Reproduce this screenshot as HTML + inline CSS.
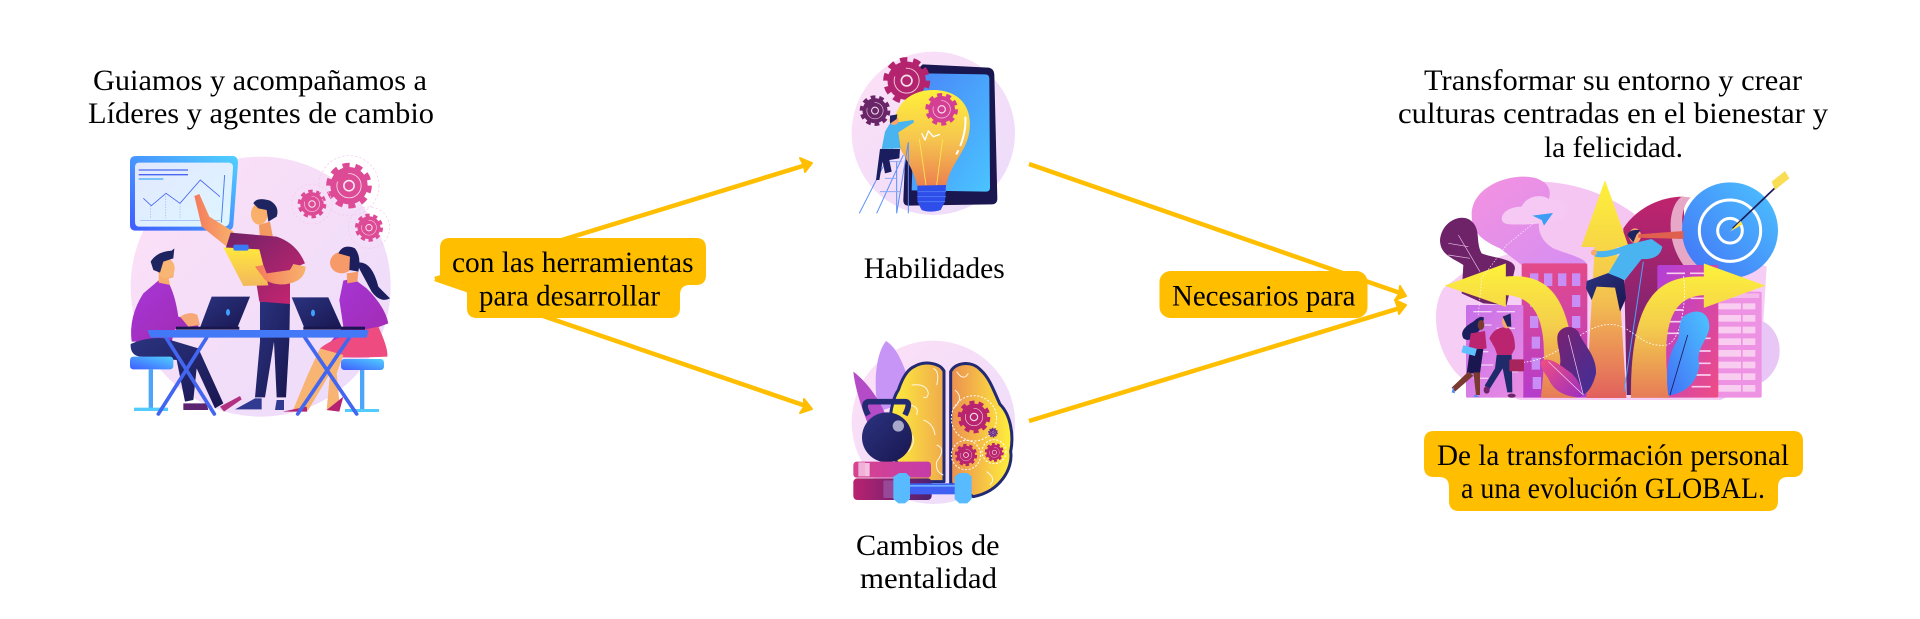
<!DOCTYPE html>
<html lang="es"><head><meta charset="utf-8"><title>Diagrama</title>
<style>
html,body{margin:0;padding:0;background:#fff;width:1920px;height:619px;overflow:hidden}
svg{display:block}
text{font-family:"Liberation Serif",serif;font-size:30px;fill:#000;}
</style></head><body>
<svg width="1920" height="619" viewBox="0 0 1920 619" xmlns="http://www.w3.org/2000/svg">
<defs>
<linearGradient id="bgp" x1="0" y1="0" x2="1" y2="1"><stop offset="0" stop-color="#fde0f6"/><stop offset="1" stop-color="#ebdcfb"/></linearGradient>
<linearGradient id="blueH" x1="0" y1="1" x2="1" y2="0"><stop offset="0" stop-color="#3f5cff"/><stop offset="1" stop-color="#50d0ff"/></linearGradient>
<linearGradient id="blueV" x1="0" y1="1" x2="1" y2="0"><stop offset="0" stop-color="#4270f6"/><stop offset="1" stop-color="#4cc4ff"/></linearGradient>
<linearGradient id="screen" x1="0" y1="0" x2="1" y2="1"><stop offset="0" stop-color="#e2e8ff"/><stop offset="1" stop-color="#def6ff"/></linearGradient>
<linearGradient id="tab" x1="0" y1="0" x2="1" y2="1"><stop offset="0" stop-color="#4a84f8"/><stop offset="1" stop-color="#4ac4ff"/></linearGradient>
<linearGradient id="shirt" x1="0" y1="0" x2="1" y2="1"><stop offset="0" stop-color="#6f2268"/><stop offset="1" stop-color="#cc2570"/></linearGradient>
<linearGradient id="purp" x1="0" y1="0" x2="1" y2="1"><stop offset="0" stop-color="#a636d8"/><stop offset="1" stop-color="#a22bb0"/></linearGradient>
<linearGradient id="navy" x1="0" y1="0" x2="1" y2="1"><stop offset="0" stop-color="#2b3480"/><stop offset="1" stop-color="#191650"/></linearGradient>
<linearGradient id="clip" x1="0" y1="0" x2="0" y2="1"><stop offset="0" stop-color="#ffe83c"/><stop offset="1" stop-color="#f3b85c"/></linearGradient>
<linearGradient id="skin" x1="0" y1="0" x2="1" y2="0"><stop offset="0" stop-color="#f47a5c"/><stop offset="1" stop-color="#f8b26c"/></linearGradient>
<linearGradient id="bulb" x1="0" y1="0" x2="0" y2="1"><stop offset="0" stop-color="#fff03a"/><stop offset=".5" stop-color="#f6c74e"/><stop offset="1" stop-color="#ec7f50"/></linearGradient>
<linearGradient id="brL" x1="0" y1="0" x2="1" y2="0"><stop offset="0" stop-color="#fff03c"/><stop offset="1" stop-color="#efaa4c"/></linearGradient>
<linearGradient id="brR" x1="1" y1="0" x2="0" y2="0"><stop offset="0" stop-color="#fff03c"/><stop offset="1" stop-color="#ec8f50"/></linearGradient>
<linearGradient id="bk1" x1="0" y1="0" x2="1" y2="0"><stop offset="0" stop-color="#d6448e"/><stop offset="1" stop-color="#c53ba8"/></linearGradient>
<linearGradient id="bk2" x1="0" y1="0" x2="1" y2="0"><stop offset="0" stop-color="#b92270"/><stop offset="1" stop-color="#4c2170"/></linearGradient>
<linearGradient id="arrow" x1="0" y1="0" x2="0" y2="1"><stop offset="0" stop-color="#fdf13a"/><stop offset=".55" stop-color="#f3c050"/><stop offset="1" stop-color="#e2605e"/></linearGradient>
<linearGradient id="arrowL" gradientUnits="userSpaceOnUse" x1="0" y1="300" x2="0" y2="700"><stop offset="0" stop-color="#fdf13a"/><stop offset=".45" stop-color="#f4cf4c"/><stop offset="1" stop-color="#e67a58"/></linearGradient>
<linearGradient id="bl1" x1="0" y1="0" x2="0" y2="1"><stop offset="0" stop-color="#e44a88"/><stop offset="1" stop-color="#b53ccc"/></linearGradient>
<linearGradient id="bl2" x1="0" y1="0" x2="1" y2="1"><stop offset="0" stop-color="#b23fd8"/><stop offset="1" stop-color="#ef4c84"/></linearGradient>
<linearGradient id="bl3" x1="0" y1="0" x2="1" y2="1"><stop offset="0" stop-color="#c66ee8"/><stop offset="1" stop-color="#ea8ee4"/></linearGradient>
<linearGradient id="top" x1="0" y1="0" x2="1" y2="1"><stop offset="0" stop-color="#f492e0"/><stop offset="1" stop-color="#d58ef2"/></linearGradient>
<linearGradient id="dome" x1="0" y1="0" x2="0" y2="1"><stop offset="0" stop-color="#c0246e"/><stop offset="1" stop-color="#5c2470"/></linearGradient>
<linearGradient id="lf1" x1="0" y1="0" x2="1" y2="1"><stop offset="0" stop-color="#7a2270"/><stop offset="1" stop-color="#3f2f9a"/></linearGradient>
<linearGradient id="lf2" x1="0" y1="0" x2="1" y2="1"><stop offset="0" stop-color="#f04f80"/><stop offset="1" stop-color="#9d2ec0"/></linearGradient>
<g id="gear"><circle r="80" fill="currentColor"/><circle r="88" fill="none" stroke="currentColor" stroke-width="20" pathLength="20" stroke-dasharray="1.1 .9"/><circle r="52" fill="none" stroke="#fff" stroke-opacity=".75" stroke-width="4" stroke-dasharray="180 60"/><circle r="22" fill="none" stroke="#fff" stroke-opacity=".85" stroke-width="7"/></g>
</defs>

<!-- connectors -->
<g fill="none" stroke="#ffbe00" stroke-width="4.500">
<line x1="435" y1="279" x2="806" y2="165"/>
<line x1="435" y1="279" x2="806" y2="406"/>
<line x1="1029" y1="164" x2="1400" y2="293"/>
<line x1="1029" y1="421" x2="1400" y2="308"/>
</g>
<g fill="#ffbe00" stroke="#ffbe00" stroke-width="2" stroke-linejoin="round">
<polygon points="812,163 800,158 804,166 805,172"/>
<polygon points="812,409 804,399 804,407 800,413"/>
<polygon points="1406,296 1400,286 1399,294 1395,300"/>
<polygon points="1406,305 1395,300 1398,308 1399,314"/>
</g>

<!-- callouts -->
<g fill="#ffbe00">
<path d="M450,238H696Q706,238 706,248V275Q706,285 696,285H690Q680,285 680,295V308Q680,318 670,318H477Q467,318 467,308V295Q467,285 457,285H450Q440,285 440,275V248Q440,238 450,238Z"/>
<rect x="1159.5" y="271" width="208" height="47" rx="11"/>
<path d="M1434,431H1793Q1803,431 1803,441V467Q1803,477 1793,477H1788Q1778,477 1778,487V501Q1778,511 1768,511H1459Q1449,511 1449,501V487Q1449,477 1439,477H1434Q1424,477 1424,467V441Q1424,431 1434,431Z"/>
</g>

<!-- labels -->
<text x="93" y="90" textLength="334" lengthAdjust="spacingAndGlyphs">Guiamos y acompañamos a</text>
<text x="88" y="123" textLength="346" lengthAdjust="spacingAndGlyphs">Líderes y agentes de cambio</text>
<text x="452" y="272" textLength="241.5" lengthAdjust="spacingAndGlyphs">con las herramientas</text>
<text x="479" y="305.500" textLength="181" lengthAdjust="spacingAndGlyphs">para desarrollar</text>
<text x="863.7" y="278" textLength="141" lengthAdjust="spacingAndGlyphs">Habilidades</text>
<text x="856" y="555" textLength="143.500" lengthAdjust="spacingAndGlyphs">Cambios de</text>
<text x="860" y="588" textLength="137" lengthAdjust="spacingAndGlyphs">mentalidad</text>
<text x="1172" y="305.500" textLength="183.500" lengthAdjust="spacingAndGlyphs">Necesarios para</text>
<text x="1424" y="90" textLength="378" lengthAdjust="spacingAndGlyphs">Transformar su entorno y crear</text>
<text x="1398" y="123" textLength="430" lengthAdjust="spacingAndGlyphs">culturas centradas en el bienestar y</text>
<text x="1544" y="157" textLength="139" lengthAdjust="spacingAndGlyphs">la felicidad.</text>
<text x="1437" y="465" textLength="352" lengthAdjust="spacingAndGlyphs">De la transformación personal</text>
<text x="1461" y="498" textLength="304" lengthAdjust="spacingAndGlyphs">a una evolución GLOBAL.</text>

<!-- Illustration A : team -->
<g transform="translate(60,40) scale(.33333)">
<circle cx="602" cy="740" r="390" fill="url(#bgp)"/>
<path d="M228,348H520Q534,350 534,368L520,555Q518,572 500,572H228Q210,572 210,555V365Q210,348 228,348Z" fill="url(#blueH)"/>
<path d="M238,368H505Q520,368 519,384L508,545Q507,560 490,560H238Q225,560 225,546V382Q225,368 238,368Z" fill="url(#screen)"/>
<g stroke="#4a66f0" fill="none"><path d="M236,390H384M236,404H384" stroke-width="4"/><path d="M236,417H310" stroke-width="4" stroke="#40a8f5"/><path d="M250,475L274,497 318,460 360,490 421,420 480,470" stroke-width="2.500"/><path d="M240,541H480" stroke-width="2" stroke="#88a8f8"/><path d="M484,548L494,405" stroke-width="3" stroke="#4a80f5"/><path d="M272,497V535M316,460V535M360,490V535" stroke-width="1.500" stroke-dasharray="4 4" stroke="#8aa0f0"/></g>
<g color="#dd4a96">
<use href="#gear" transform="translate(867,437) scale(.7)"/>
<use href="#gear" transform="translate(756,492) scale(.44)"/>
<use href="#gear" transform="translate(927,563) scale(.43)"/>
</g>
<g fill="none" stroke="#f5c8ea" stroke-width="2" stroke-dasharray="7 6"><circle cx="867" cy="437" r="90"/><circle cx="756" cy="492" r="60"/><circle cx="927" cy="563" r="62"/></g>
<!-- left man -->
<path d="M295,722L322,722Q345,760 355,830L415,848 415,868 345,868 335,905 215,905Q205,830 250,760Z" fill="url(#purp)"/>
<path d="M360,830Q390,812 412,825L420,855 385,860Z" fill="#f6a878"/>
<path d="M296,690L342,695 340,712 326,716 330,735 296,728Z" fill="#f7ac6c"/>
<ellipse cx="318" cy="685" rx="26" ry="30" fill="#f9b574"/>
<path d="M272,665Q290,635 335,632L343,625 340,655 310,665 300,698 280,690Z" fill="#1e2460"/>
<path d="M212,912Q260,890 315,895L415,925 490,1090 465,1105 410,985 400,1080 375,1085 350,960 240,950Q210,945 212,912Z" fill="url(#navy)"/>
<path d="M370,1090H440L445,1110H370Z" fill="#5c2470"/><path d="M480,1100L540,1068 545,1078 492,1115Z" fill="#b23080"/>
<rect x="210" y="950" width="130" height="38" rx="10" fill="url(#blueH)"/><rect x="266" y="988" width="13" height="118" fill="#4da5fa"/><rect x="222" y="1103" width="102" height="10" fill="#52ccff"/>
<!-- woman -->
<path d="M890,668Q935,660 955,740L990,775Q960,790 935,755L900,690Z" fill="#1c1e5e"/>
<path d="M850,722L880,715 920,745Q975,800 985,850L945,865 955,910 800,920 850,860 838,780Z" fill="url(#purp)"/>
<path d="M780,925Q830,885 955,860 985,925 982,950 860,955 800,950Z" fill="#ee4b80"/>
<path d="M860,700L895,695 892,725 862,730Z" fill="#f69c6a"/>
<ellipse cx="845" cy="668" rx="35" ry="32" fill="#f79a69"/>
<path d="M835,640Q850,610 885,625 905,650 895,695L868,690 870,650Z" fill="#1c1e5e"/>
<path d="M780,925L850,945 830,1000 838,1085 820,1112 800,1110 810,1000 745,1110 700,1108 745,1000Z" fill="#f7b473"/>
<path d="M668,1115L740,1100 742,1115ZM800,1110L850,1070 838,1115Z" fill="#b52370"/>
<rect x="843" y="957" width="129" height="33" rx="10" fill="url(#blueH)"/><rect x="900" y="990" width="13" height="118" fill="#4da5fa"/><rect x="855" y="1107" width="102" height="9" fill="#52ccff"/>
<!-- center man -->
<path d="M600,785H690L688,900 678,1072 650,1072 642,905 615,1072 585,1072 600,905Z" fill="url(#navy)"/>
<path d="M585,1075H605V1108H525ZM650,1080H672V1110H645Z" fill="#2f3a90"/>
<path d="M597,555L630,545 640,597 600,600Z" fill="#f29a62"/>
<path d="M403,468L418,462 448,530 522,576 500,620 425,560Z" fill="url(#skin)"/>
<path d="M512,578L650,590Q710,610 735,670L690,688 690,792 598,785 590,735 498,622Z" fill="url(#shirt)"/>
<ellipse cx="598" cy="522" rx="25" ry="32" fill="#f9b06a"/>
<path d="M580,490Q590,470 630,482 660,500 650,530L625,545 620,510 595,505Z" fill="#1e2460"/>
<path d="M490,622L598,628 625,736 550,738Z" fill="url(#clip)"/>
<rect x="520" y="614" width="46" height="18" rx="6" fill="#3a7af5"/>
<path d="M585,680L610,675 620,700 690,690 700,672 737,680Q735,720 690,730 650,740 615,720Z" fill="url(#skin)"/>
<!-- laptops / table -->
<path d="M455,770H570L530,868H418Z" fill="url(#navy)"/><path d="M695,772H805L848,868H735Z" fill="url(#navy)"/>
<ellipse cx="504" cy="817" rx="6" ry="10" fill="#3ea0ff"/><ellipse cx="759" cy="819" rx="6" ry="10" fill="#3ea0ff"/>
<rect x="348" y="860" width="190" height="9" fill="#191650"/><rect x="730" y="860" width="185" height="9" fill="#191650"/>
<g stroke="#4266ef" stroke-width="11" stroke-linecap="round"><line x1="318" y1="893" x2="463" y2="1122"/><line x1="440" y1="893" x2="295" y2="1122"/><line x1="735" y1="893" x2="890" y2="1122"/><line x1="868" y1="893" x2="713" y2="1122"/></g>
<path d="M262,870H926L920,893H272Z" fill="#4378f6"/>
</g>

<!-- Illustration B : bulb -->
<g transform="translate(840,45) scale(.33333)">
<ellipse cx="280" cy="265" rx="245" ry="245" fill="url(#bgp)"/>
<path d="M248,58L445,68Q462,70 463,90L472,460Q472,478 455,478L205,482Q190,482 190,465L205,100Z" fill="#191650"/>
<path d="M255,85L435,88Q448,88 448,100L450,428Q450,440 438,440L215,436 225,100Z" fill="url(#tab)"/>
<g color="#b4246e"><use href="#gear" transform="translate(200,107) scale(.72)"/></g>
<g color="#6a2468"><use href="#gear" transform="translate(105,197) scale(.47)"/></g>
<path d="M280,135C180,135 145,220 170,285C185,330 218,360 232,425L318,425C330,360 370,330 385,275C405,190 360,135 280,135Z" fill="url(#bulb)"/>
<g color="#d43f94"><use href="#gear" transform="translate(305,193) scale(.5)"/></g>
<g fill="none" stroke="#fff" stroke-width="4"><path d="M245,265L255,285 265,258 280,275 300,268" stroke-linejoin="round"/><path d="M376,215Q380,270 348,330" stroke-width="6" stroke-dasharray="90 14 14"/></g>
<path d="M238,282L258,420M308,282L290,420" stroke="#ffe94f" stroke-width="2.500" fill="none"/>
<path d="M232,422L318,420 315,470 302,495Q270,505 245,495L232,470Z" fill="#2f4de8"/>
<path d="M232,440H318M232,455H318M235,470H315" stroke="#4a78f5" stroke-width="3" fill="none"/>
<path d="M205,292L170,505M205,292V505M170,350V505M165,295L58,505M190,330L110,505" stroke="#5a8ff8" stroke-width="3" fill="none"/>
<path d="M120,440H180M135,400H170M150,350H185" stroke="#8aaaf8" stroke-width="3"/>
<path d="M150,235L220,225 222,232 175,262 182,310 125,312 135,260Z" fill="#49b4f0"/>
<ellipse cx="162" cy="226" rx="14" ry="14" fill="#f7a86a"/><path d="M150,212L172,208 170,222 150,236Z" fill="#1e2460"/>
<path d="M120,312L180,312 178,340 148,345 155,380 135,385 128,350 118,405 108,405Z" fill="#1a1d5e"/>
</g>

<!-- Illustration C : brain -->
<g transform="translate(840,335) scale(.33333)">
<ellipse cx="280" cy="262" rx="245" ry="245" fill="url(#bgp)"/>
<path d="M138,18C175,40 195,100 215,165L175,210 115,230C100,150 105,60 138,18Z" fill="#c795f6"/>
<path d="M40,110C80,140 115,190 135,235L85,270C65,220 45,160 40,110Z" fill="#b44cc8"/>
<path d="M312,108C300,85 255,75 222,95C200,105 185,135 175,165C150,200 130,320 180,400L210,440H312Z" fill="url(#brL)" stroke="#232a74" stroke-width="9" stroke-linejoin="round"/>
<path d="M332,110C345,82 395,75 422,105C450,130 462,170 480,208C512,240 522,300 512,350C520,400 480,470 400,485L332,445Z" fill="url(#brR)" stroke="#232a74" stroke-width="9" stroke-linejoin="round"/>
<g fill="none" stroke="#fff" stroke-opacity=".85" stroke-width="3"><path d="M215,150Q260,145 265,175 260,195 250,185M280,100Q300,110 290,150M200,210Q240,210 230,240M250,255Q280,265 285,300M290,330Q320,340 290,380 285,410 310,420M215,300Q230,320 205,350M350,110Q370,140 385,115M345,165Q375,190 340,220M440,410Q470,430 450,450"/></g>
<g fill="none" stroke="#fff" stroke-width="3" stroke-dasharray="6 5"><circle cx="402" cy="250" r="68"/><circle cx="378" cy="360" r="44"/><circle cx="462" cy="350" r="36"/></g>
<g color="#b9246e"><use href="#gear" transform="translate(402,246) scale(.5)"/><use href="#gear" transform="translate(378,360) scale(.34)"/><use href="#gear" transform="translate(463,352) scale(.29)"/></g>
<g color="#6b2a88"><use href="#gear" transform="translate(459,293) scale(.15)"/></g>
<path d="M85,240Q65,205 85,200H195Q215,200 195,240" fill="none" stroke="#222a72" stroke-width="17"/>
<ellipse cx="141" cy="307" rx="75" ry="75" fill="url(#navy)"/>
<ellipse cx="175" cy="273" rx="17" ry="17" fill="#a8a8c8"/>
<rect x="40" y="380" width="233" height="48" rx="10" fill="url(#bk1)"/>
<rect x="55" y="382" width="20" height="42" fill="#f0b0d8"/><rect x="75" y="384" width="14" height="40" fill="#f4bfe0"/>
<rect x="40" y="430" width="235" height="65" rx="12" fill="url(#bk2)"/>
<rect x="130" y="436" width="60" height="53" rx="5" fill="#984898"/>
<rect x="205" y="445" width="145" height="33" fill="#3f60f3"/><rect x="205" y="450" width="145" height="5" fill="#70b0ff"/>
<path d="M160,425L178,414H198L210,425V492L195,505H175L160,492Z" fill="#58baff"/>
<path d="M344,425L358,414H382L395,425V492L382,505H358L344,492Z" fill="#58baff"/>
</g>

<!-- Illustration D : goal -->
<g transform="translate(1420,165) scale(.33333)">
<path d="M640,150L1040,305 1030,470C1090,500 1100,600 1030,650L900,705H300L140,650C60,600 20,450 70,370L160,300Z" fill="#f6cdf4"/>
<path d="M1030,470C1090,500 1100,600 1030,650L900,705 900,470Z" fill="#e8c7f6"/>
<path d="M370,50C500,58 590,105 660,160L500,300 300,300 200,180Z" fill="#f6c6f2"/>
<path d="M155,150C155,60 280,20 350,40 400,60 395,90 375,130 345,170 350,220 400,250 450,270 500,280 500,300L305,300 240,250C170,220 155,190 155,150Z" fill="url(#top)"/>
<path d="M245,160C250,130 290,125 305,125 320,90 370,85 390,105 430,95 455,130 440,150 410,175 330,180 290,178 260,180 245,175 245,160Z" fill="#f5c9f3"/>
<path d="M337,152L399,144 372,182 365,165Z" fill="#3d9cf5"/>
<path d="M60,225C65,170 120,145 150,165 185,190 165,230 185,265 220,280 285,280 285,310L260,420 190,415 125,385 130,300C100,280 60,270 60,225Z" fill="#6e2268"/>
<path d="M115,210L180,320M85,235L145,245M85,270L150,280" stroke="#e8c0e8" stroke-width="2" fill="none"/>
<path d="M610,190C650,130 720,95 790,95L800,330 720,690 620,690Z" fill="url(#dome)"/>
<path d="M785,95C735,130 735,270 830,340L880,330C790,270 760,150 812,97Z" fill="#e6a8c6"/>
<circle cx="930" cy="196" r="144" fill="url(#blueV)"/>
<circle cx="930" cy="197" r="92" fill="none" stroke="#fff" stroke-width="9"/>
<circle cx="930" cy="197" r="37" fill="none" stroke="#fff" stroke-width="9"/>
<path d="M938,190L1095,40" stroke="#1d1b58" stroke-width="5"/>
<path d="M930,200L962,168 968,178Z" fill="#ffe64a"/><path d="M1095,18L1108,40 1065,75 1055,50Z" fill="#f8dd55"/>
<rect x="305" y="295" width="197" height="403" rx="6" fill="url(#bl1)"/>
<g fill="#c88ef5"><rect x="330" y="325" width="25" height="38"/><rect x="372" y="325" width="25" height="38"/><rect x="414" y="325" width="25" height="38"/><rect x="456" y="325" width="25" height="38"/><rect x="330" y="390" width="25" height="36"/><rect x="456" y="390" width="25" height="36"/><rect x="330" y="453" width="25" height="36"/><rect x="456" y="453" width="25" height="36"/><rect x="335" y="515" width="25" height="36"/><rect x="335" y="578" width="25" height="36"/><rect x="338" y="636" width="25" height="36"/></g>
<rect x="138" y="420" width="172" height="278" rx="5" fill="url(#bl3)"/>
<g stroke="#f2d0f5" stroke-width="4"><path d="M160,440H215M230,440H285M160,480H215M230,490H285M160,560H205M170,600H220M160,640H205M250,620H295"/></g>
<rect x="890" y="380" width="135" height="318" rx="5" fill="#ee92e4"/>
<g fill="#f8cdf0"><rect x="893" y="385" width="125" height="14" fill="#f5b8ea"/><rect x="893" y="415" width="33" height="18"/><rect x="925" y="415" width="38" height="18"/><rect x="968" y="415" width="38" height="18"/><rect x="893" y="450" width="33" height="20"/><rect x="925" y="450" width="38" height="20"/><rect x="968" y="450" width="38" height="20"/><rect x="893" y="485" width="33" height="20"/><rect x="925" y="485" width="38" height="20"/><rect x="968" y="485" width="38" height="20"/><rect x="893" y="520" width="33" height="20"/><rect x="925" y="520" width="38" height="20"/><rect x="968" y="520" width="38" height="20"/><rect x="893" y="555" width="33" height="20"/><rect x="925" y="555" width="38" height="20"/><rect x="968" y="555" width="38" height="20"/><rect x="893" y="590" width="33" height="20"/><rect x="925" y="590" width="38" height="20"/><rect x="968" y="590" width="38" height="20"/><rect x="893" y="625" width="33" height="20"/><rect x="925" y="625" width="38" height="20"/><rect x="968" y="625" width="38" height="20"/><rect x="893" y="660" width="33" height="20"/><rect x="925" y="660" width="38" height="20"/><rect x="968" y="660" width="38" height="20"/></g>
<rect x="712" y="300" width="183" height="398" rx="6" fill="url(#bl2)"/>
<g stroke="#f8cdf0" stroke-width="5"><path d="M740,325H795M810,325H870M740,365H795M810,365H870M740,400H795M812,400H870M740,435H790M740,470H790M740,505H790M825,520H872M825,558H872M825,595H872M825,630H872M815,665H872"/></g>
<path d="M555,48L485,245 525,245 500,698H618L590,245 625,245Z" fill="url(#arrow)" stroke="url(#arrow)" stroke-width="2" stroke-linejoin="round"/>
<path d="M500,348L570,322 612,345 618,400 600,440 585,368 530,365 515,405 498,370Z" fill="url(#navy)"/>
<path d="M525,258C570,262 600,245 625,238L695,222 727,245Q720,285 665,282L615,345 565,325 600,265C570,275 550,280 525,275Z" fill="#49b4f0"/>
<ellipse cx="645" cy="212" rx="18" ry="22" fill="#f7a86a"/><path d="M622,210Q630,190 662,196L650,208 640,232Z" fill="#1e2460"/>
<path d="M655,208L790,198V222L655,218Z" fill="#e0604f"/><circle cx="522" cy="263" r="9" fill="#f7a86a"/>
<path d="M670,290L612,680" stroke="#4aa5f8" stroke-width="3"/>
<path d="M75,362L257,296V335C380,325 465,380 465,698H363C385,520 375,395 257,390V425Z" fill="url(#arrowL)" stroke="url(#arrowL)" stroke-width="1" stroke-linejoin="round"/>
<path d="M1035,362L852,296V335C710,330 633,400 633,698H748C725,520 735,395 852,390V428Z" fill="url(#arrowL)" stroke="url(#arrowL)" stroke-width="1" stroke-linejoin="round"/>
<path d="M310,592C430,580 480,480 570,478 640,480 660,550 740,540 790,525 800,380 790,330" fill="none" stroke="#fff" stroke-width="2.500" stroke-dasharray="5 5"/>
<path d="M175,450L185,340 260,240 340,175" fill="none" stroke="#fff" stroke-width="2" stroke-dasharray="4 5"/>
<path d="M412,515C415,485 455,475 475,500 490,540 530,570 528,625 515,680 490,695 470,695L420,600C425,570 410,545 412,515Z" fill="url(#lf1)"/>
<path d="M362,590C385,570 420,600 455,625 490,660 490,695 480,697 420,695 395,665 385,640 370,620 362,605 362,590Z" fill="url(#lf2)"/>
<path d="M445,510L490,690M385,590L490,690" stroke="#f0d0f0" stroke-width="2" fill="none"/>
<path d="M790,455C830,425 870,440 868,490 860,530 825,555 838,600 830,660 790,685 745,692 735,620 745,570 770,530 785,505 770,480 790,455Z" fill="url(#blueV)"/>
<path d="M803,510L750,690" stroke="#1d1b58" stroke-width="2.500"/>
<!-- couple -->
<path d="M160,470Q180,450 192,458 188,490 170,505 150,535 130,520 115,495 160,470Z" fill="#1c1e5e"/>
<path d="M152,505L195,498 200,550 145,560Z" fill="#bb2570"/>
<path d="M150,552H190L180,625H140Z" fill="#191650"/>
<path d="M145,620L95,668 105,680 160,632ZM160,622L168,690 180,690 180,622Z" fill="#7a3a30"/>
<rect x="126" y="546" width="42" height="22" fill="#60c0ff" transform="rotate(15 148 558)"/>
<ellipse cx="183" cy="480" rx="10" ry="15" fill="#7a3a30"/>
<path d="M208,520Q225,482 265,488 285,505 285,550L272,574 232,572 225,550Z" fill="#bb2570"/>
<ellipse cx="260" cy="470" rx="14" ry="20" fill="#f7a86a"/><path d="M248,455L272,445 274,485 262,485Z" fill="#1e2460"/>
<path d="M230,570H275L277,682H262L248,610 207,675 194,662 225,610Z" fill="#1e2a6a"/>
<rect x="268" y="583" width="44" height="36" rx="4" fill="#a8245c"/>
<ellipse cx="200" cy="675" rx="9" ry="11" fill="#6e2468"/><ellipse cx="275" cy="692" rx="12" ry="6" fill="#6e2468"/>
<path d="M100,665L95,682 105,685ZM165,688L180,697 160,695Z" fill="#4c8cf0"/>
</g>
</svg>
</body></html>
